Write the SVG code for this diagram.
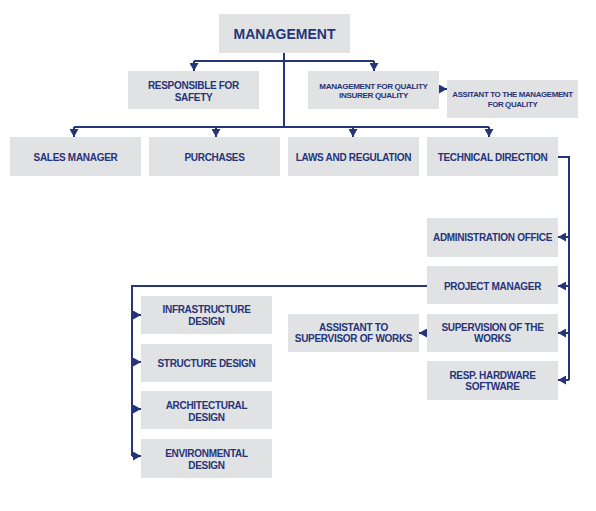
<svg xmlns="http://www.w3.org/2000/svg" width="596" height="511" viewBox="0 0 596 511">
<style>
.box{fill:#e1e2e4}
.t{font-family:"Liberation Sans",Arial,sans-serif;font-weight:bold;fill:#263479;text-anchor:middle;font-size:10px;letter-spacing:-0.3px}
.s{font-size:8.1px;letter-spacing:-0.35px}
.xs{font-size:7.9px;letter-spacing:-0.35px}
.big{font-size:14px;letter-spacing:0}
.ln{fill:none;stroke:#263479;stroke-width:2}
</style>
<defs>
<marker id="ah" viewBox="0 0 8 9" refX="8" refY="4.5" markerWidth="8" markerHeight="9" markerUnits="userSpaceOnUse" orient="auto">
<path d="M0,0 L8,4.5 L0,9 z" fill="#263479"/>
</marker>
</defs>
<rect width="596" height="511" fill="#fff"/>
<g id="connectors">
<path class="ln" d="M284,53 V127"/>
<path class="ln" d="M194,61 H374"/>
<path class="ln" d="M194,61 V71" marker-end="url(#ah)"/>
<path class="ln" d="M374,61 V71" marker-end="url(#ah)"/>
<path class="ln" d="M74,127 H489"/>
<path class="ln" d="M74,127 V137" marker-end="url(#ah)"/>
<path class="ln" d="M216,127 V137" marker-end="url(#ah)"/>
<path class="ln" d="M353,127 V137" marker-end="url(#ah)"/>
<path class="ln" d="M489,127 V137" marker-end="url(#ah)"/>
<path class="ln" d="M439,89 H447" marker-end="url(#ah)"/>
<path class="ln" d="M558,157 H569 V380"/>
<path class="ln" d="M569,237 H558" marker-end="url(#ah)"/>
<path class="ln" d="M569,286 H558" marker-end="url(#ah)"/>
<path class="ln" d="M569,333 H558" marker-end="url(#ah)"/>
<path class="ln" d="M569,380 H558" marker-end="url(#ah)"/>
<path class="ln" d="M427,286 H132 V456"/>
<path class="ln" d="M132,315 H141" marker-end="url(#ah)"/>
<path class="ln" d="M132,362 H141" marker-end="url(#ah)"/>
<path class="ln" d="M132,409 H141" marker-end="url(#ah)"/>
<path class="ln" d="M132,456 H141" marker-end="url(#ah)"/>
<path class="ln" d="M427,333 H419" marker-end="url(#ah)"/>
</g>
<g id="management"><rect class="box" x="219" y="14" width="131" height="39"/><text class="t big" x="284.5" y="39">MANAGEMENT</text></g>
<g id="safety"><rect class="box" x="128" y="71" width="131" height="38"/><text class="t" x="193.5" y="89">RESPONSIBLE FOR</text><text class="t" x="193.5" y="101">SAFETY</text></g>
<g id="quality"><rect class="box" x="308" y="71" width="131" height="38"/><text class="t s" x="373.5" y="89">MANAGEMENT FOR QUALITY</text><text class="t s" x="373.5" y="98">INSURER QUALITY</text></g>
<g id="assistant-quality"><rect class="box" x="447" y="80" width="131" height="38"/><text class="t xs" x="512.5" y="97">ASSITANT TO THE MANAGEMENT</text><text class="t xs" x="512.5" y="107">FOR QUALITY</text></g>
<g id="sales"><rect class="box" x="10" y="137" width="131" height="39"/><text class="t" x="75.5" y="161">SALES MANAGER</text></g>
<g id="purchases"><rect class="box" x="149" y="137" width="131" height="39"/><text class="t" x="214.5" y="161">PURCHASES</text></g>
<g id="laws"><rect class="box" x="288" y="137" width="131" height="39"/><text class="t" x="353.5" y="161">LAWS AND REGULATION</text></g>
<g id="technical"><rect class="box" x="427" y="137" width="131" height="39"/><text class="t" x="492.5" y="161">TECHNICAL DIRECTION</text></g>
<g id="administration"><rect class="box" x="427" y="218" width="131" height="39"/><text class="t" x="492.5" y="241">ADMINISTRATION OFFICE</text></g>
<g id="project-manager"><rect class="box" x="427" y="266" width="131" height="38"/><text class="t" x="492.5" y="290">PROJECT MANAGER</text></g>
<g id="supervision"><rect class="box" x="427" y="314" width="131" height="38"/><text class="t" x="492.5" y="331">SUPERVISION OF THE</text><text class="t" x="492.5" y="342">WORKS</text></g>
<g id="hardware"><rect class="box" x="427" y="361" width="131" height="39"/><text class="t" x="492.5" y="379">RESP. HARDWARE</text><text class="t" x="492.5" y="390">SOFTWARE</text></g>
<g id="assistant-supervisor"><rect class="box" x="288" y="314" width="131" height="38"/><text class="t" x="353.5" y="331">ASSISTANT TO</text><text class="t" x="353.5" y="342">SUPERVISOR OF WORKS</text></g>
<g id="infrastructure"><rect class="box" x="141" y="296" width="131" height="38"/><text class="t" x="206.5" y="313">INFRASTRUCTURE</text><text class="t" x="206.5" y="325">DESIGN</text></g>
<g id="structure"><rect class="box" x="141" y="344" width="131" height="38"/><text class="t" x="206.5" y="367">STRUCTURE DESIGN</text></g>
<g id="architectural"><rect class="box" x="141" y="391" width="131" height="38"/><text class="t" x="206.5" y="409">ARCHITECTURAL</text><text class="t" x="206.5" y="421">DESIGN</text></g>
<g id="environmental"><rect class="box" x="141" y="439" width="131" height="39"/><text class="t" x="206.5" y="457">ENVIRONMENTAL</text><text class="t" x="206.5" y="469">DESIGN</text></g>
</svg>
